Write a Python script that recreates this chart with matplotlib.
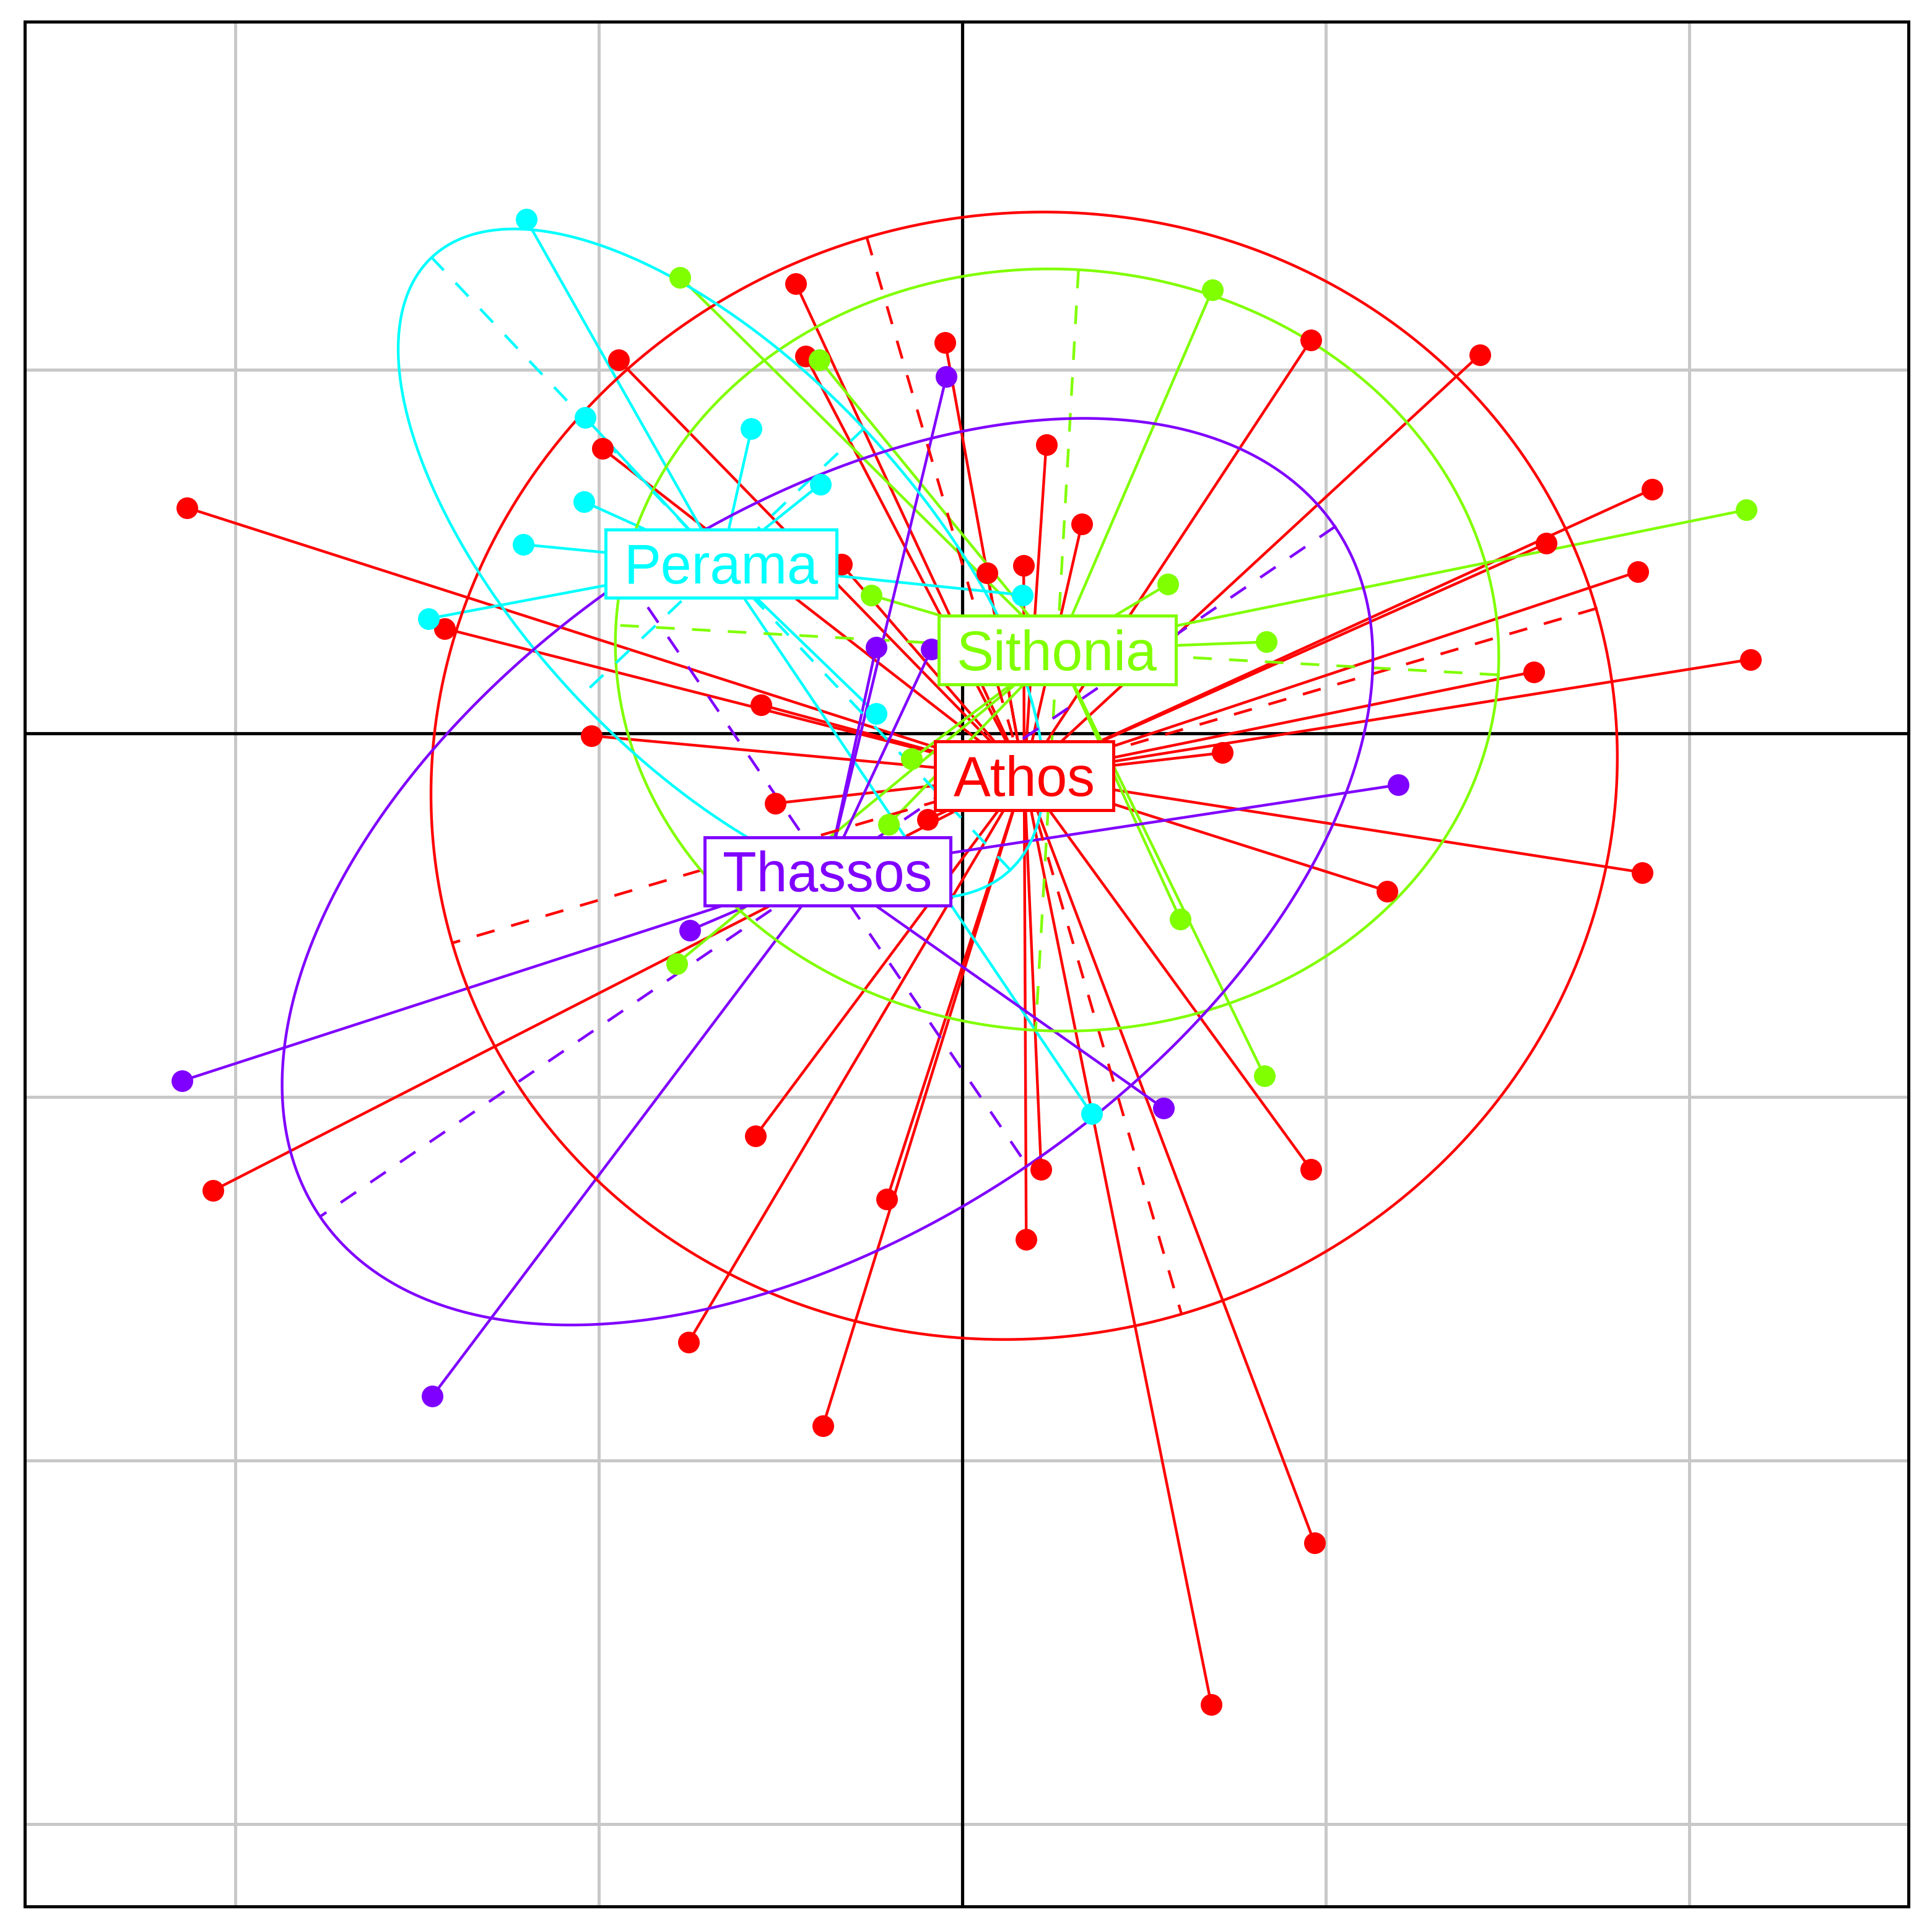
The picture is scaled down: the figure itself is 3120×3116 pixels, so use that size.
import numpy as np
import matplotlib
matplotlib.use("Agg")
import matplotlib.pyplot as plt
from matplotlib.patches import Rectangle
from matplotlib.transforms import offset_copy

# ---------------- data (coordinates in grid units) ----------------
groups = ["Athos", "Sithonia", "Perama", "Thassos"]
group_colors = ["#FF0000", "#80FF00", "#00FFFF", "#8000FF"]

athos_x = [-2.132, -2.061, -1.424, -1.020, -0.990, -0.946, -0.753, -0.569, -0.553,
           -0.515, -0.458, -0.431, -0.383, -0.332, -0.207, -0.095, -0.047, 0.068,
           0.169, 0.176, 0.217, 0.231, 0.329, 0.685, 0.715, 0.959, 0.959, 0.969,
           1.169, 1.424, 1.573, 1.607, 1.858, 1.871, 1.898, 2.169]
athos_y = [0.620, -1.258, 0.288, -0.007, 0.783, 1.027, -1.675, -1.108, 0.078,
           -0.193, 1.237, 1.037, -1.905, 0.464, -1.281, -0.237, 1.075, 0.441,
           0.461, -1.393, -1.200, 0.793, 0.576, -2.671, -0.054, -1.200, 1.081, -2.227,
           -0.434, 1.041, 0.169, 0.522, 0.444, -0.383, 0.671, 0.203]

sithonia_x = [-0.776, -0.393, -0.251, 0.566, 0.688, 0.837, 2.156, 0.600, 0.831,
              -0.786, -0.139, -0.203]
sithonia_y = [1.254, 1.027, 0.380, 0.410, 1.220, 0.251, 0.614, -0.512, -0.942,
              -0.634, -0.071, -0.251]

perama_x = [-1.200, -1.037, -0.580, -0.390, -1.041, -1.207, -1.468, -0.237, 0.166, 0.356]
perama_y = [1.414, 0.868, 0.837, 0.685, 0.637, 0.519, 0.315, 0.054, 0.380, -1.047]

thassos_x = [-0.044, -0.237, -0.085, -0.749, -2.146, -1.458, 0.553, 1.200]
thassos_y = [0.980, 0.237, 0.231, -0.542, -0.956, -1.824, -1.031, -0.142]

group_x = [athos_x, sithonia_x, perama_x, thassos_x]
group_y = [athos_y, sithonia_y, perama_y, thassos_y]

grid_x = [-2, -1, 1, 2]
grid_y = [1, -1, -2, -3]
xlim = (-2.579, 2.603)
ylim = (-3.227, 1.957)
cellipse = 1.5

# ---------------- figure ----------------
W, H, DPI = 3120, 3116, 300
fig = plt.figure(figsize=(W / DPI, H / DPI), dpi=DPI)
ax = fig.add_axes([40 / W, 38 / H, 3042 / W, 3043 / H])
ax.set_xlim(*xlim)
ax.set_ylim(*ylim)
ax.set_xticks([])
ax.set_yticks([])
for s in ax.spines.values():
    s.set_linewidth(1.2)
    s.set_color("black")
    s.set_zorder(10)

for g in grid_x:
    ax.axvline(g, color="#C8C8C8", lw=1.2, zorder=0)
for g in grid_y:
    ax.axhline(g, color="#C8C8C8", lw=1.2, zorder=0)
ax.axhline(0, color="black", lw=1.25, zorder=0.5)
ax.axvline(0, color="black", lw=1.25, zorder=0.5)

LW = 1.05
centers = []
for xs, ys in zip(group_x, group_y):
    xs = np.asarray(xs); ys = np.asarray(ys)
    centers.append((xs.mean(), ys.mean()))

# stars
for (xs, ys), (mx, my), c in zip(zip(group_x, group_y), centers, group_colors):
    for px, py in zip(xs, ys):
        ax.plot([mx, px], [my, py], color=c, lw=LW, zorder=1, solid_capstyle="butt")

# ellipses (ade4 style, population covariance, coeff 1.5)
dash = (0, (7.2 / LW, 6.7 / LW))
for (xs, ys), (mx, my), c in zip(zip(group_x, group_y), centers, group_colors):
    xs = np.asarray(xs); ys = np.asarray(ys)
    vx = np.mean((xs - mx) ** 2)
    vy = np.mean((ys - my) ** 2)
    cxy = np.mean((xs - mx) * (ys - my))
    delta = np.sqrt((vx - vy) ** 2 + 4 * cxy ** 2)
    l1 = (vx + vy + delta) / 2
    l2 = vx + vy - l1
    l1 = np.sqrt(max(l1, 0)); l2 = np.sqrt(max(l2, 0))
    a0 = 1.0
    b0 = (l1 * l1 - vx) / cxy
    n = np.hypot(a0, b0); a0 /= n; b0 /= n
    c11 = cellipse * a0 * l1
    c12 = -cellipse * b0 * l2
    c21 = cellipse * b0 * l1
    c22 = cellipse * a0 * l2
    t = np.linspace(0, 2 * np.pi, 400)
    ex = mx + c11 * np.cos(t) + c12 * np.sin(t)
    ey = my + c21 * np.cos(t) + c22 * np.sin(t)
    ax.plot(ex, ey, color=c, lw=LW, zorder=2)
    ax.plot([mx + c11, mx - c11], [my + c21, my - c21], color=c, lw=LW, ls=dash, zorder=2)
    ax.plot([mx + c12, mx - c12], [my + c22, my - c22], color=c, lw=LW, ls=dash, zorder=2)

# points
for xs, ys, c in zip(group_x, group_y, group_colors):
    ax.plot(xs, ys, ls="none", marker="o", ms=8.4, mew=0, color=c, zorder=3)

# labels with boxes
FS = 21.5
fs_px = FS * DPI / 72
cap_pt = 0.716 * FS
texts = []
for name, (mx, my), c in zip(groups, centers, group_colors):
    tr = offset_copy(ax.transData, fig=fig, x=0, y=-cap_pt / 2, units="points")
    t = ax.text(mx, my, name, transform=tr, ha="center", va="baseline",
                fontsize=FS, color=c, family=["Liberation Sans", "DejaVu Sans"], zorder=6)
    texts.append(t)

fig.canvas.draw()
renderer = fig.canvas.get_renderer()
inv = ax.transData.inverted()
for t, (mx, my), c in zip(texts, centers, group_colors):
    bb = t.get_window_extent(renderer)
    bw = bb.width + 2 * 0.33 * fs_px
    bh = 1.23 * fs_px
    p0 = ax.transData.transform((mx, my))
    (x0, y0) = inv.transform((p0[0] - bw / 2, p0[1] - bh / 2))
    (x1, y1) = inv.transform((p0[0] + bw / 2, p0[1] + bh / 2))
    ax.add_patch(Rectangle((x0, y0), x1 - x0, y1 - y0, facecolor="white",
                           edgecolor=c, lw=1.2, zorder=5))

fig.savefig("out.png", dpi=DPI, facecolor="white")
